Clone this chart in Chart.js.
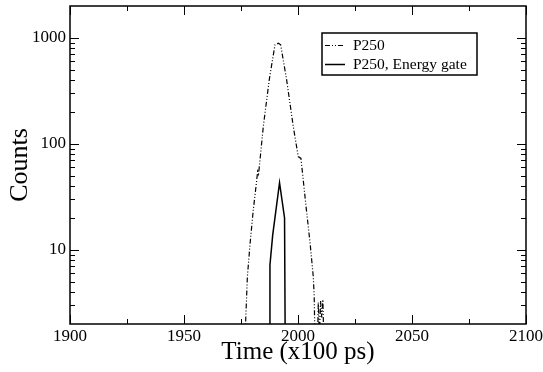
<!DOCTYPE html>
<html lang="en">
<head>
  <meta charset="UTF-8">
  <title>P250 time spectrum</title>
  <script src="https://cdn.jsdelivr.net/npm/chart.js"></script>
  <style>
    html, body { margin: 0; padding: 0; background: white; }
    #chartContainer { width: 543px; height: 372px; }
  </style>
</head>
<body>
  <div id="chartContainer">
    <canvas id="chart"></canvas>
  </div>

  <script>
    // P250, all events (dash-dot-dot line)
    const p250Time = [1976.9, 1977.0, 1977.8, 1979.0, 1980.4, 1981.6, 1982.3, 1982.7, 1983.2, 1984.8,
      1987.4, 1989.9, 1991.4, 1992.4, 1995.0, 1997.9, 2000.1, 2001.3, 2003.5, 2005.3,
      2006.7, 2007.1, 2007.5, 2008.5, 2008.9, 2009.4, 2009.9, 2010.4, 2010.9, 2011.4];
    const p250Counts = [1.2, 2.0, 5.6, 11.6, 24, 40, 55, 52, 66, 147,
      404, 860, 890, 860, 404, 147, 76, 73, 26, 11.6,
      5.6, 3.7, 1.2, 1.2, 3.2, 1.5, 3.3, 2.3, 3.4, 1.2];

    // P250 with energy gate (solid line)
    const gateTime = [1987.5, 1987.7, 1988.9, 1991.9, 1994.1, 1994.4];
    const gateCounts = [1.2, 7.2, 13.8, 43, 20, 1.2];

    const xMajor = [1900, 1950, 2000, 2050, 2100];
    const xMinor = [1925, 1975, 2025, 2075];
    const yMajor = [10, 100, 1000];
    const yMinor = [3, 4, 5, 6, 7, 8, 9, 20, 30, 40, 50, 60, 70, 80, 90,
      200, 300, 400, 500, 600, 700, 800, 900];

    const toPoints = (xs, ys) => xs.map((x, i) => ({ x: x, y: ys[i] }));

    // frame + inward ticks on all four sides, like the original plot
    const frameTicks = {
      id: 'frameTicks',
      afterDraw(chart) {
        const { ctx, chartArea: a, scales: { x, y } } = chart;
        ctx.save();
        ctx.strokeStyle = '#000';
        ctx.lineWidth = 1.5;
        ctx.strokeRect(a.left, a.top, a.right - a.left, a.bottom - a.top);
        ctx.lineWidth = 1;
        ctx.beginPath();
        const xTick = (v, len) => {
          const px = Math.round(x.getPixelForValue(v)) + 0.5;
          ctx.moveTo(px, a.bottom); ctx.lineTo(px, a.bottom - len);
          ctx.moveTo(px, a.top); ctx.lineTo(px, a.top + len);
        };
        const yTick = (v, len) => {
          const py = Math.round(y.getPixelForValue(v)) + 0.5;
          ctx.moveTo(a.left, py); ctx.lineTo(a.left + len, py);
          ctx.moveTo(a.right, py); ctx.lineTo(a.right - len, py);
        };
        xMajor.forEach(v => xTick(v, 9));
        xMinor.forEach(v => xTick(v, 5));
        yMajor.forEach(v => yTick(v, 9));
        yMinor.forEach(v => yTick(v, 5));
        ctx.stroke();
        ctx.restore();
      }
    };

    const legendBox = {
      id: 'legendBox',
      afterDraw(chart) {
        const { ctx, chartArea: a } = chart;
        const bx = a.left + 252, by = a.top + 27, bw = 155, bh = 42;
        ctx.save();
        ctx.strokeStyle = '#000';
        ctx.lineWidth = 1.5;
        ctx.strokeRect(bx, by, bw, bh);
        ctx.fillStyle = '#000';
        ctx.font = '15.5px "Liberation Serif"';
        ctx.textBaseline = 'middle';
        chart.data.datasets.forEach((ds, i) => {
          const ly = Math.round(by + 12 + i * 18.5) + 0.5;
          ctx.lineWidth = ds.borderWidth;
          ctx.setLineDash(ds.borderDash || []);
          ctx.beginPath();
          ctx.moveTo(bx + 3, ly);
          ctx.lineTo(bx + 23, ly);
          ctx.stroke();
          ctx.setLineDash([]);
          ctx.fillText(ds.label, bx + 31, ly);
        });
        ctx.restore();
      }
    };

    const serif = 'Liberation Serif';

    new Chart(document.getElementById('chart'), {
      type: 'line',
      data: {
        datasets: [
          {
            label: 'P250',
            data: toPoints(p250Time, p250Counts),
            borderColor: '#000',
            borderWidth: 1.2,
            borderDash: [5, 2, 1, 2, 1, 2],
            pointRadius: 0,
            fill: false
          },
          {
            label: 'P250, Energy gate',
            data: toPoints(gateTime, gateCounts),
            borderColor: '#000',
            borderWidth: 1.5,
            pointRadius: 0,
            fill: false
          }
        ]
      },
      options: {
        responsive: true,
        maintainAspectRatio: false,
        animation: false,
        devicePixelRatio: 1,
        layout: { padding: { top: 6, right: 17, bottom: 0, left: 0 } },
        plugins: { legend: { display: false }, tooltip: { enabled: false } },
        scales: {
          x: {
            type: 'linear',
            min: 1900,
            max: 2100,
            afterBuildTicks: s => { s.ticks = xMajor.map(v => ({ value: v })); },
            afterFit: s => { s.height = 48; s.paddingLeft = 0; s.paddingRight = 0; },
            grid: { display: false, drawTicks: false },
            border: { display: false },
            ticks: {
              color: '#000',
              font: { family: serif, size: 17 },
              padding: 2,
              maxRotation: 0,
              autoSkip: false,
              callback: v => String(v)
            },
            title: {
              display: true,
              text: 'Time (x100 ps)',
              color: '#000',
              font: { family: serif, size: 25 },
              padding: { top: 0, bottom: 5 }
            }
          },
          y: {
            type: 'logarithmic',
            min: 2,
            max: 2000,
            afterBuildTicks: s => { s.ticks = yMajor.map(v => ({ value: v })); },
            afterFit: s => { s.width = 70; s.paddingTop = 0; s.paddingBottom = 0; },
            grid: { display: false, drawTicks: false },
            border: { display: false },
            ticks: {
              color: '#000',
              font: { family: serif, size: 17 },
              padding: 4,
              autoSkip: false,
              callback: v => String(v)
            },
            title: {
              display: true,
              text: 'Counts',
              color: '#000',
              font: { family: serif, size: 26 },
              padding: { top: 5, bottom: 0 }
            }
          }
        }
      },
      plugins: [frameTicks, legendBox]
    });
  </script>
</body>
</html>
